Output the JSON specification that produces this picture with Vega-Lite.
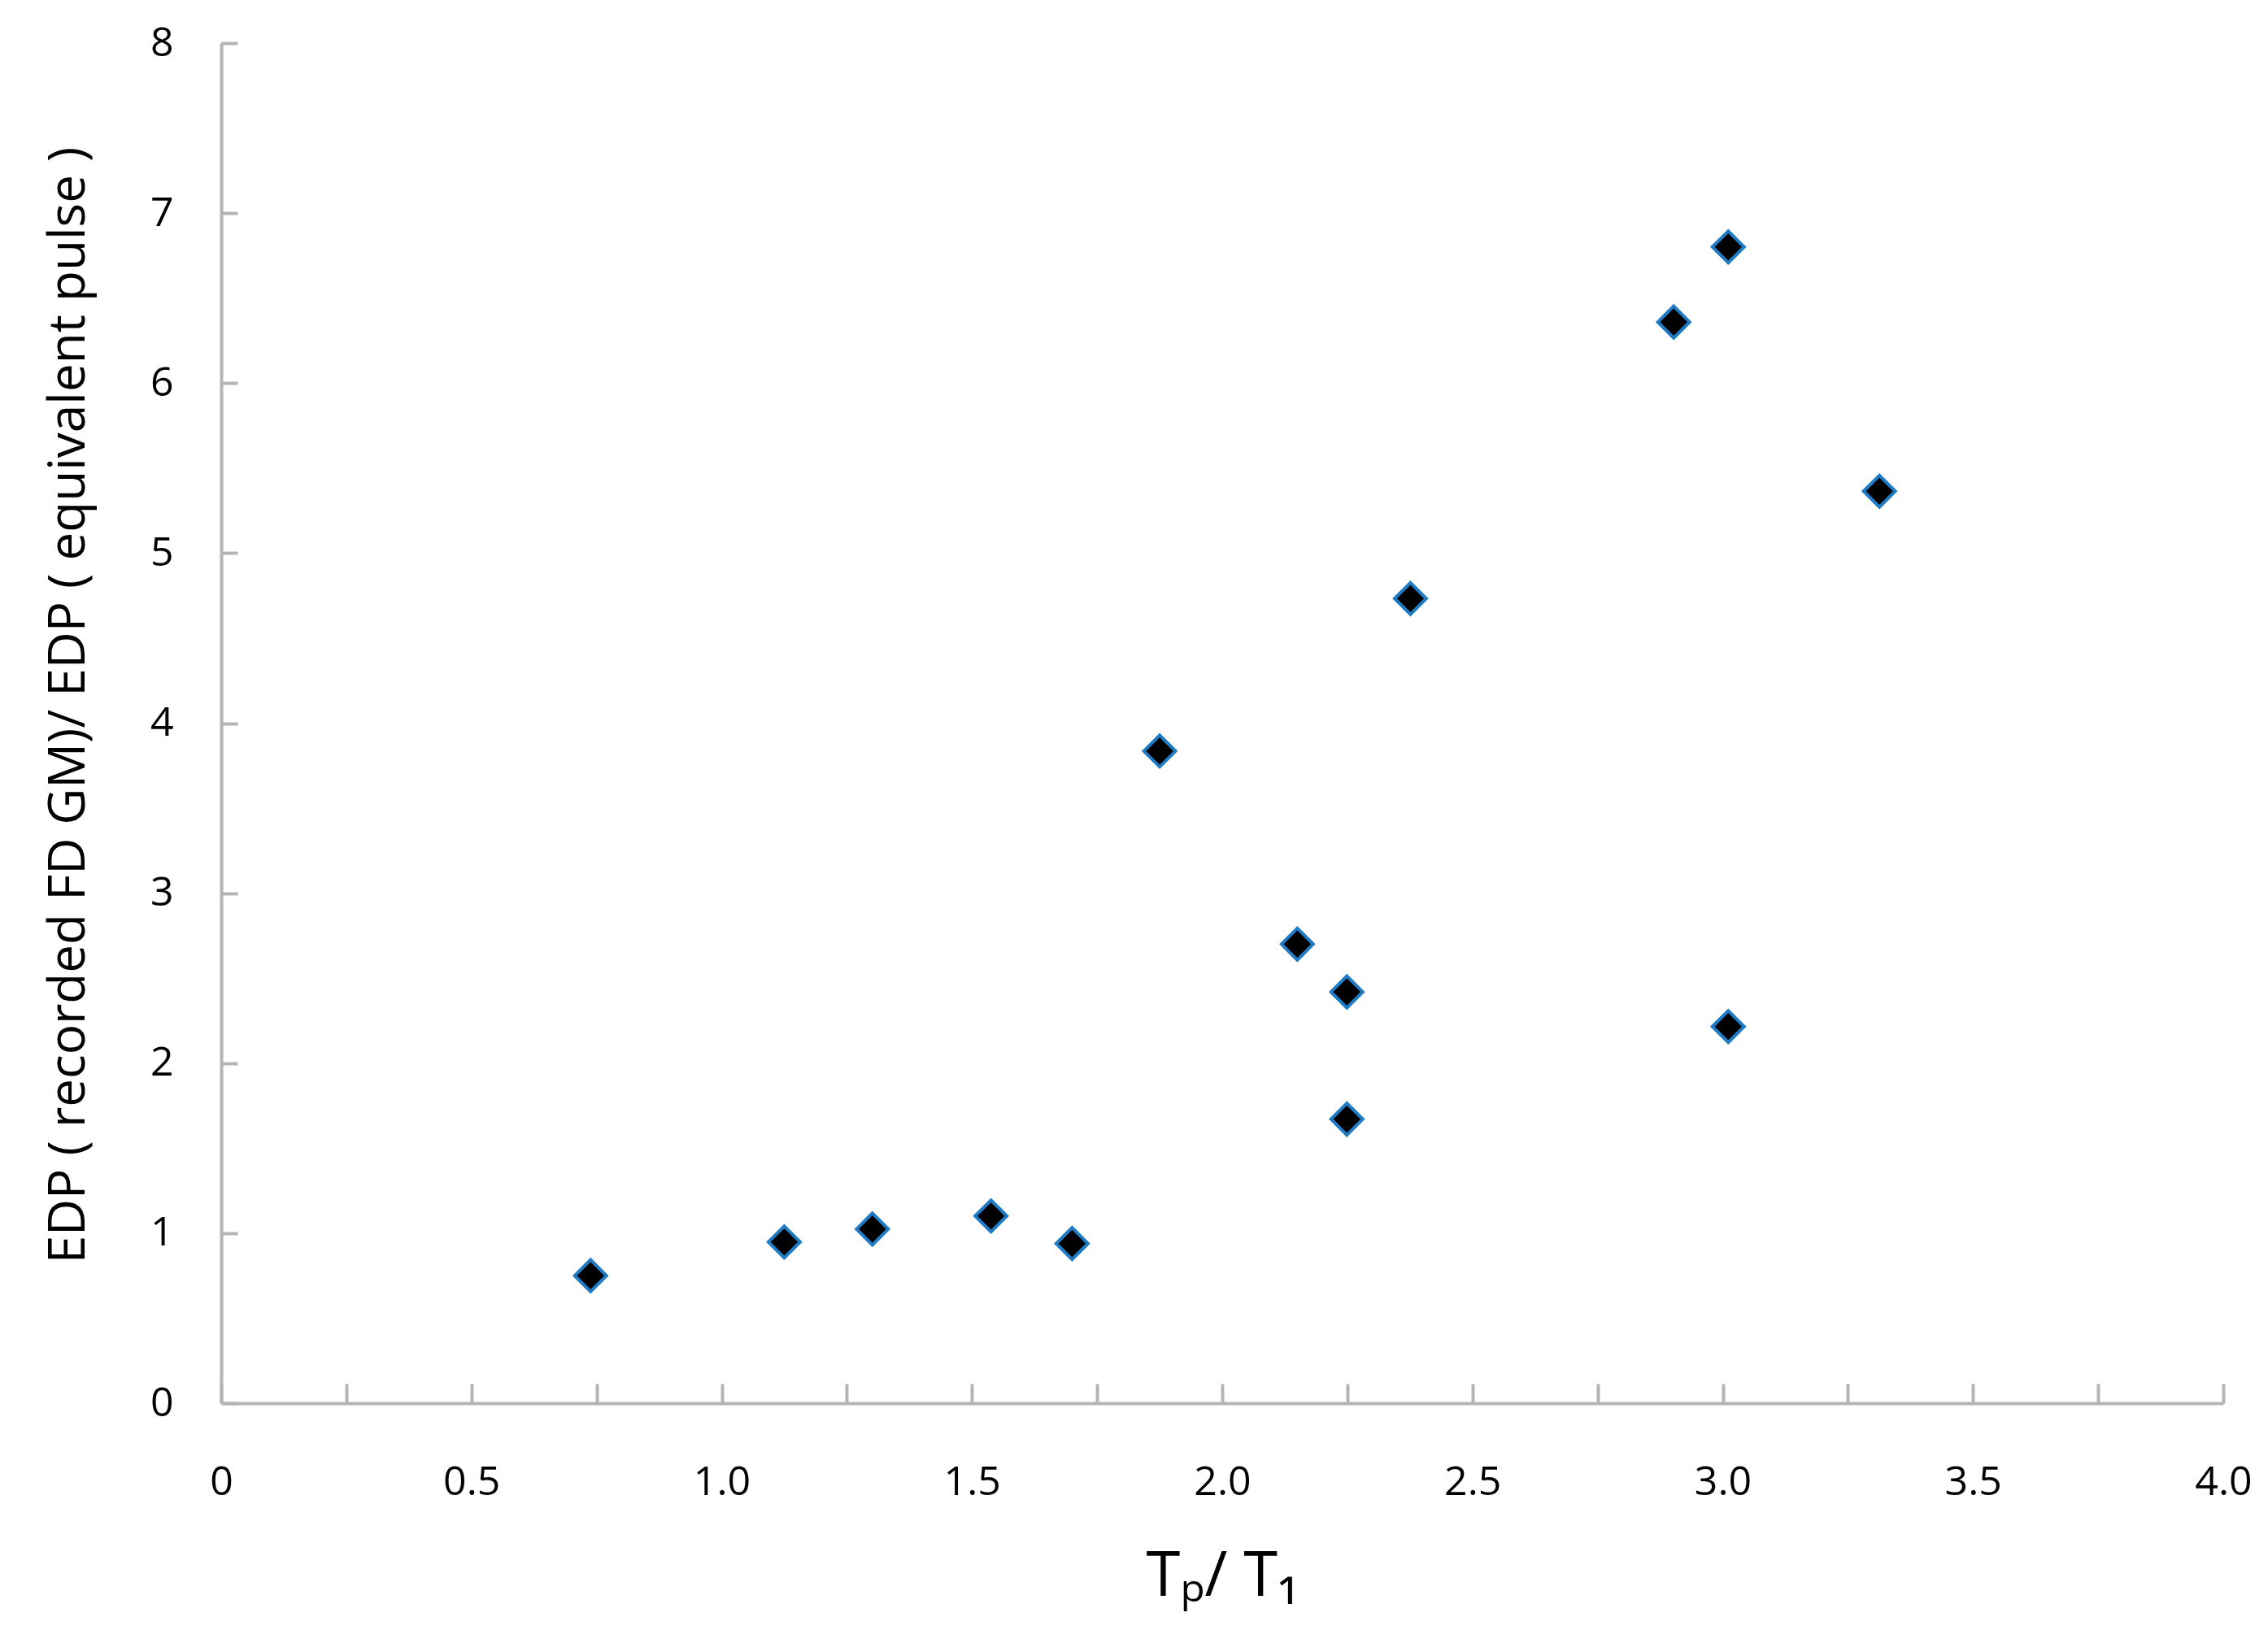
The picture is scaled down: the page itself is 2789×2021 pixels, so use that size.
{
  "$schema": "https://vega.github.io/schema/vega-lite/v6.json",
  "autosize": "none",
  "width": 2462,
  "height": 1673,
  "padding": {"left": 272, "top": 53, "right": 55, "bottom": 295},
  "background": "white",
  "config": {"view": {"stroke": null}},
  "data": {"values": [
    {"x": 0.738, "y": 0.750},
    {"x": 1.125, "y": 0.948},
    {"x": 1.301, "y": 1.024},
    {"x": 1.538, "y": 1.101},
    {"x": 1.700, "y": 0.939},
    {"x": 1.875, "y": 3.836},
    {"x": 2.150, "y": 2.700},
    {"x": 2.249, "y": 2.419},
    {"x": 2.249, "y": 1.671},
    {"x": 2.376, "y": 4.733},
    {"x": 2.902, "y": 6.359},
    {"x": 3.011, "y": 6.801},
    {"x": 3.011, "y": 2.215},
    {"x": 3.313, "y": 5.364}
  ]},
  "mark": {"type": "point", "shape": "diamond", "filled": true, "fill": "black", "stroke": "#1f7bc3", "strokeWidth": 4, "size": 1521, "opacity": 1},
  "encoding": {
    "x": {
      "field": "x", "type": "quantitative",
      "scale": {"domain": [0, 4], "nice": false, "zero": false},
      "axis": {
        "values": [0, 0.25, 0.5, 0.75, 1, 1.25, 1.5, 1.75, 2, 2.25, 2.5, 2.75, 3, 3.25, 3.5, 3.75, 4],
        "labelExpr": "datum.value == 0 ? '0' : (datum.value * 2 % 1 == 0 ? format(datum.value, '.1f') : '')",
        "grid": false,
        "domainColor": "#b4b4b8", "domainWidth": 4,
        "tickColor": "#b4b4b8", "tickWidth": 4, "tickSize": -24,
        "labelFont": "Open Sans", "labelFontSize": 50, "labelColor": "black",
        "labelPadding": 96, "labelFlush": false, "labelOverlap": false,
        "title": "Tₚ/ T₁",
        "titleFont": "Open Sans", "titleFontSize": 76, "titleFontWeight": "normal", "titleColor": "black",
        "titlePadding": 54
      }
    },
    "y": {
      "field": "y", "type": "quantitative",
      "scale": {"domain": [0, 8], "nice": false},
      "axis": {
        "values": [0, 1, 2, 3, 4, 5, 6, 7, 8],
        "grid": false,
        "domainColor": "#b4b4b8", "domainWidth": 4,
        "tickColor": "#b4b4b8", "tickWidth": 4, "tickSize": -20,
        "labelFont": "Open Sans", "labelFontSize": 50, "labelColor": "black",
        "labelPadding": 79, "labelFlush": false, "labelOverlap": false,
        "title": "EDP  ( recorded FD GM)/ EDP ( equivalent pulse )",
        "titleFont": "Open Sans", "titleFontSize": 62, "titleFontWeight": "normal", "titleColor": "black",
        "titlePadding": 68, "titleY": 814
      }
    }
  }
}
